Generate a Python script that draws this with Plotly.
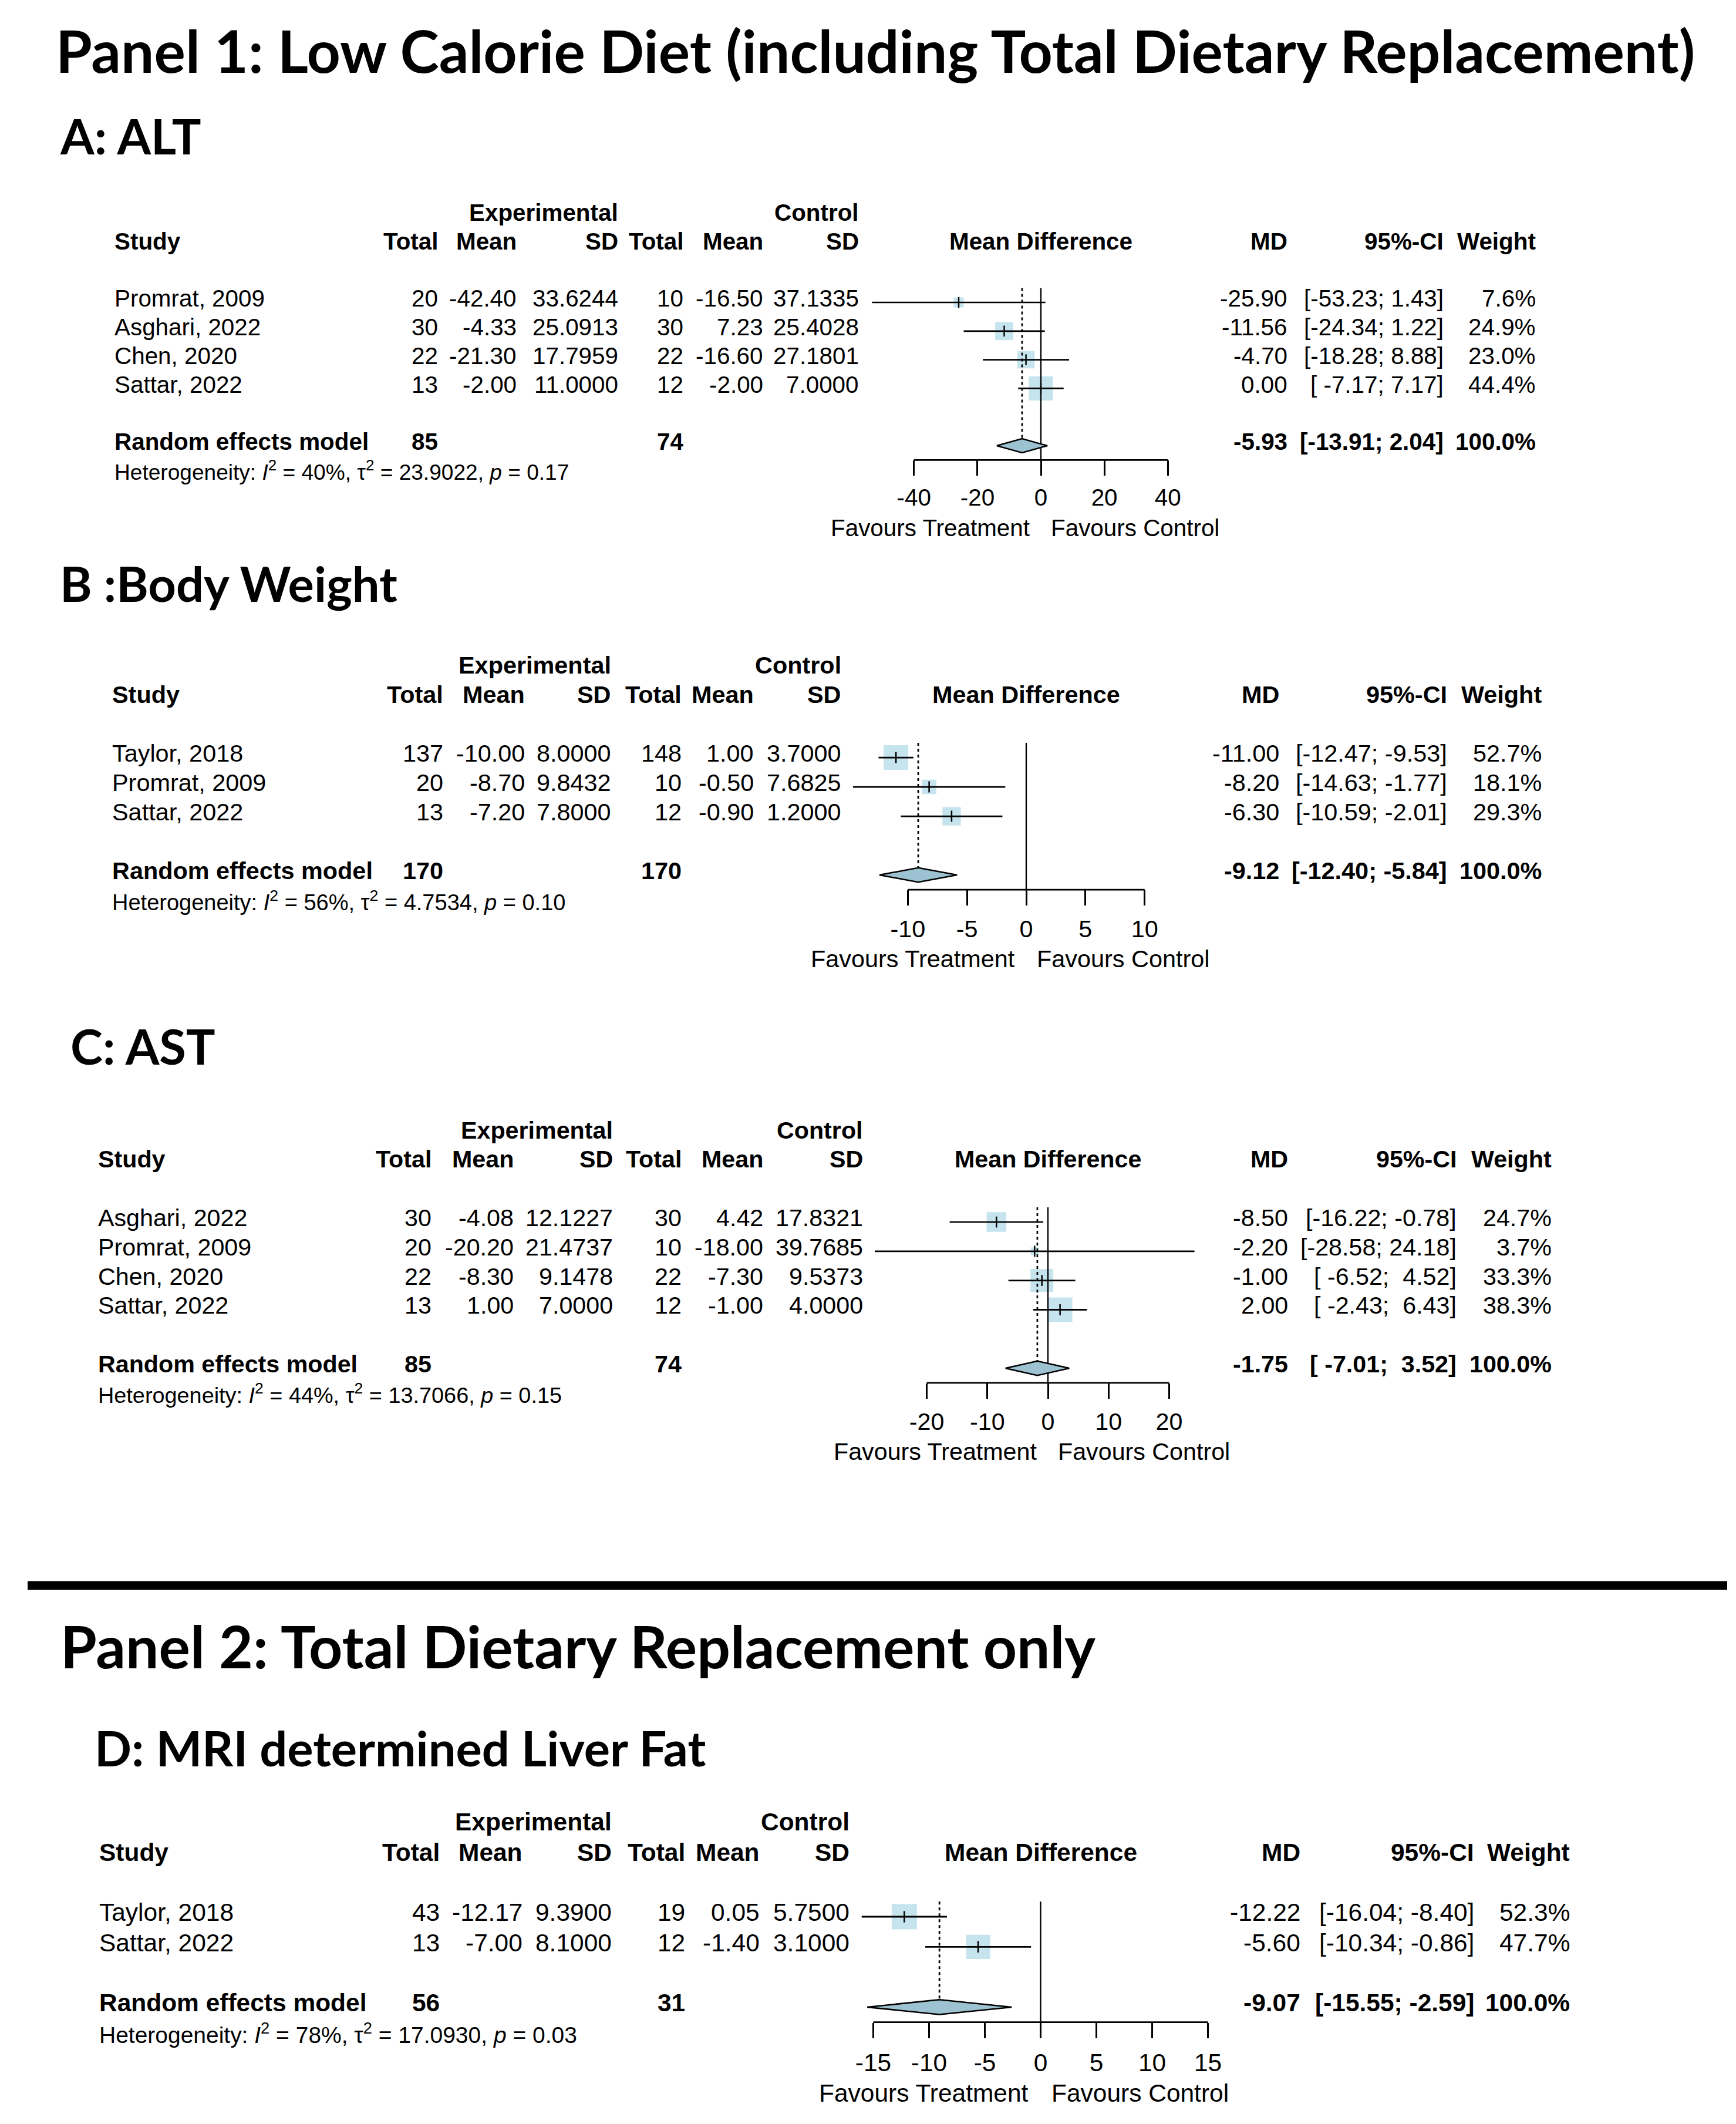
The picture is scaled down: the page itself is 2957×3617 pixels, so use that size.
import math
import plotly.graph_objects as go

W, H = 2957, 3617

# ---------------- DATA ----------------
MAIN_TITLES = ["Panel 1: Low Calorie Diet (including Total Dietary Replacement)",
               "Panel 2: Total Dietary Replacement only"]
PANEL_TITLES = ["A: ALT", "B :Body Weight", "C: AST", "D: MRI determined Liver Fat"]
HEADER_TOP = ["Experimental", "Control"]
HEADER = ["Study", "Total", "Mean", "SD", "Total", "Mean", "SD", "Mean Difference", "MD", "95%-CI", "Weight"]
POOLED_LABEL = "Random effects model"
FAVOURS = ["Favours Treatment", "Favours Control"]
REF_VALUE = 0

# Panel A: ALT
A_study = ["Promrat, 2009", "Asghari, 2022", "Chen, 2020", "Sattar, 2022"]
A_exp_total = [20, 30, 22, 13]
A_exp_mean = [-42.40, -4.33, -21.30, -2.00]
A_exp_sd = [33.6244, 25.0913, 17.7959, 11.0000]
A_ctl_total = [10, 30, 22, 12]
A_ctl_mean = [-16.50, 7.23, -16.60, -2.00]
A_ctl_sd = [37.1335, 25.4028, 27.1801, 7.0000]
A_md = [-25.90, -11.56, -4.70, 0.00]
A_lower = [-53.23, -24.34, -18.28, -7.17]
A_upper = [1.43, 1.22, 8.88, 7.17]
A_weight = [7.6, 24.9, 23.0, 44.4]
A_pooled_total = [85, 74]
A_pooled = [-5.93, -13.91, 2.04]
A_pooled_weight = 100.0
A_het = [40, 23.9022, 0.17]
A_ticks = [-40, -20, 0, 20, 40]

# Panel B: Body Weight
B_study = ["Taylor, 2018", "Promrat, 2009", "Sattar, 2022"]
B_exp_total = [137, 20, 13]
B_exp_mean = [-10.00, -8.70, -7.20]
B_exp_sd = [8.0000, 9.8432, 7.8000]
B_ctl_total = [148, 10, 12]
B_ctl_mean = [1.00, -0.50, -0.90]
B_ctl_sd = [3.7000, 7.6825, 1.2000]
B_md = [-11.00, -8.20, -6.30]
B_lower = [-12.47, -14.63, -10.59]
B_upper = [-9.53, -1.77, -2.01]
B_weight = [52.7, 18.1, 29.3]
B_pooled_total = [170, 170]
B_pooled = [-9.12, -12.40, -5.84]
B_pooled_weight = 100.0
B_het = [56, 4.7534, 0.10]
B_ticks = [-10, -5, 0, 5, 10]

# Panel C: AST
C_study = ["Asghari, 2022", "Promrat, 2009", "Chen, 2020", "Sattar, 2022"]
C_exp_total = [30, 20, 22, 13]
C_exp_mean = [-4.08, -20.20, -8.30, 1.00]
C_exp_sd = [12.1227, 21.4737, 9.1478, 7.0000]
C_ctl_total = [30, 10, 22, 12]
C_ctl_mean = [4.42, -18.00, -7.30, -1.00]
C_ctl_sd = [17.8321, 39.7685, 9.5373, 4.0000]
C_md = [-8.50, -2.20, -1.00, 2.00]
C_lower = [-16.22, -28.58, -6.52, -2.43]
C_upper = [-0.78, 24.18, 4.52, 6.43]
C_weight = [24.7, 3.7, 33.3, 38.3]
C_pooled_total = [85, 74]
C_pooled = [-1.75, -7.01, 3.52]
C_pooled_weight = 100.0
C_het = [44, 13.7066, 0.15]
C_ticks = [-20, -10, 0, 10, 20]

# Panel D: MRI determined liver fat
D_study = ["Taylor, 2018", "Sattar, 2022"]
D_exp_total = [43, 13]
D_exp_mean = [-12.17, -7.00]
D_exp_sd = [9.3900, 8.1000]
D_ctl_total = [19, 12]
D_ctl_mean = [0.05, -1.40]
D_ctl_sd = [5.7500, 3.1000]
D_md = [-12.22, -5.60]
D_lower = [-16.04, -10.34]
D_upper = [-8.40, -0.86]
D_weight = [52.3, 47.7]
D_pooled_total = [56, 31]
D_pooled = [-9.07, -15.55, -2.59]
D_pooled_weight = 100.0
D_het = [78, 17.0930, 0.03]
D_ticks = [-15, -10, -5, 0, 5, 10, 15]

# ---------------- LAYOUT (pixel geometry) ----------------
BODY = "Liberation Sans, Arial, sans-serif"
TITLE = "Lato, Calibri, sans-serif"
SQUARE_COL = "#ADD8E6"
DIAMOND_COL = "#9DC3D2"

PANELS = [
    dict(study=A_study, et=A_exp_total, em=A_exp_mean, es=A_exp_sd, ct=A_ctl_total, cm=A_ctl_mean,
         cs=A_ctl_sd, md=A_md, lo=A_lower, hi=A_upper, w=A_weight, pt=A_pooled_total, pool=A_pooled,
         pw=A_pooled_weight, het=A_het, ticks=A_ticks,
         title_xy=(104, 233), y1=507, h=48.8, zero=1765, ppu=5.405, xr=(-60, 50),
         cols=[189, 738, 872, 1045, 1156, 1292, 1455, 2185, 2451, 2608]),
    dict(study=B_study, et=B_exp_total, em=B_exp_mean, es=B_exp_sd, ct=B_ctl_total, cm=B_ctl_mean,
         cs=B_ctl_sd, md=B_md, lo=B_lower, hi=B_upper, w=B_weight, pt=B_pooled_total, pool=B_pooled,
         pw=B_pooled_weight, het=B_het, ticks=B_ticks,
         title_xy=(104, 995), y1=1282, h=50, zero=1740, ppu=20.17, xr=(-16, 12),
         cols=[185, 747, 886, 1033, 1153, 1276, 1425, 2171, 2457, 2618]),
    dict(study=C_study, et=C_exp_total, em=C_exp_mean, es=C_exp_sd, ct=C_ctl_total, cm=C_ctl_mean,
         cs=C_ctl_sd, md=C_md, lo=C_lower, hi=C_upper, w=C_weight, pt=C_pooled_total, pool=C_pooled,
         pw=C_pooled_weight, het=C_het, ticks=C_ticks,
         title_xy=(122, 1783), y1=2073, h=49.8, zero=1777, ppu=10.32, xr=(-32, 28),
         cols=[161, 727, 867, 1036, 1153, 1292, 1462, 2186, 2473, 2635]),
    dict(study=D_study, et=D_exp_total, em=D_exp_mean, es=D_exp_sd, ct=D_ctl_total, cm=D_ctl_mean,
         cs=D_ctl_sd, md=D_md, lo=D_lower, hi=D_upper, w=D_weight, pt=D_pooled_total, pool=D_pooled,
         pw=D_pooled_weight, het=D_het, ticks=D_ticks,
         title_xy=(163, 2978), y1=3256, h=51.3, zero=1764.5, ppu=19.0, xr=(-18, 18),
         cols=[163, 741, 882, 1034, 1159, 1286, 1439, 2207, 2503, 2666]),
]

MAIN_TITLE_XY = [(97, 89), (105, 2806)]
SEPARATOR_Y = 2692

NBSP = "\u00a0"


def pad(strings):
    wmax = max(len(s) for s in strings)
    return [NBSP * (wmax - len(s)) + s for s in strings]


fig = go.Figure()
annotations = []
shapes = []


def ann(text, x, y, xanchor="left", size=40, bold=False, xref="paper", family=BODY, xshift=0):
    if family == TITLE:
        ys = 0.12 * size
        xs = -12
    else:
        ys = 0.17 * size
        xs = {"left": -4, "right": 2, "center": 0}[xanchor]
    annotations.append(dict(
        text=text, x=(x / W if xref == "paper" else x), y=1 - y / H, xref=xref, yref="paper",
        xanchor=xanchor, yanchor="middle", showarrow=False, xshift=xshift + xs, yshift=ys,
        font=dict(family=family, size=size, color="black", weight=700 if bold else 400)))


for k, P in enumerate(PANELS, start=1):
    sfx = "" if k == 1 else str(k)
    xa, ya = "x" + sfx, "y" + sfx
    h, y1 = P["h"], P["y1"]
    n = len(P["study"])
    rows = list(range(1, n + 1))
    pool_row = n + 2
    axis_row = pool_row + 0.5
    top_row = -3
    fs = 0.828 * h
    lw = 0.055 * h

    def ypx(r, y1=y1, h=h):
        return y1 + (r - 1) * h

    x0_px = P["zero"] + P["xr"][0] * P["ppu"]
    x1_px = P["zero"] + P["xr"][1] * P["ppu"]
    ticks = P["ticks"]
    fig.update_layout(**{
        "xaxis" + sfx: dict(domain=[x0_px / W, x1_px / W], range=list(P["xr"]), anchor=ya,
                            tickvals=ticks, ticktext=[str(t) for t in ticks], ticks="outside",
                            ticklen=0.52 * h, tickwidth=lw, tickcolor="black", showgrid=False,
                            zeroline=False, showline=False, fixedrange=True,
                            tickfont=dict(family=BODY, size=fs, color="black"),
                            ticklabelstandoff=int(round(0.70 * h)) - 31),
        "yaxis" + sfx: dict(domain=[1 - ypx(axis_row) / H, 1 - ypx(top_row) / H],
                            range=[axis_row, top_row], visible=False, anchor=xa, fixedrange=True),
    })

    wmax = max(P["w"])
    sizes = [0.84 * h * math.sqrt(w / wmax) for w in P["w"]]
    # squares (area proportional to weight)
    fig.add_trace(go.Scatter(x=P["md"], y=rows, mode="markers", xaxis=xa, yaxis=ya,
                             marker=dict(symbol="square", size=sizes, color=SQUARE_COL, line=dict(width=0)),
                             hoverinfo="skip", showlegend=False))
    # CI lines
    cx, cy = [], []
    for lo, hi, r in zip(P["lo"], P["hi"], rows):
        cx += [lo, hi, None]
        cy += [r, r, None]
    fig.add_trace(go.Scatter(x=cx, y=cy, mode="lines", xaxis=xa, yaxis=ya,
                             line=dict(color="black", width=lw), hoverinfo="skip", showlegend=False))
    # point estimate tick
    fig.add_trace(go.Scatter(x=P["md"], y=rows, mode="markers", xaxis=xa, yaxis=ya,
                             marker=dict(symbol="line-ns-open", size=0.27 * h, color="black",
                                         line=dict(color="black", width=lw * 0.9)),
                             hoverinfo="skip", showlegend=False))
    # reference (no-effect) line
    fig.add_trace(go.Scatter(x=[REF_VALUE, REF_VALUE], y=[0.5, axis_row], mode="lines", xaxis=xa, yaxis=ya,
                             line=dict(color="black", width=lw * 0.85), hoverinfo="skip", showlegend=False))
    pmd, plo, phi = P["pool"]
    dh = 0.245
    # pooled dotted line
    fig.add_trace(go.Scatter(x=[pmd, pmd], y=[0.5, pool_row - dh], mode="lines", xaxis=xa, yaxis=ya,
                             line=dict(color="black", width=lw, dash="5px,5px"),
                             hoverinfo="skip", showlegend=False))
    # diamond
    fig.add_trace(go.Scatter(x=[plo, pmd, phi, pmd, plo],
                             y=[pool_row, pool_row - dh, pool_row, pool_row + dh, pool_row],
                             mode="lines", fill="toself", fillcolor=DIAMOND_COL, xaxis=xa, yaxis=ya,
                             line=dict(color="black", width=lw * 0.9), hoverinfo="skip", showlegend=False))
    # axis base line
    shapes.append(dict(type="line", xref=xa, yref=ya + " domain", x0=ticks[0], x1=ticks[-1], y0=0, y1=0,
                       line=dict(color="black", width=lw)))

    # ---- text table ----
    c = P["cols"]
    ann("<b>%s</b>" % HEADER_TOP[0], c[3], ypx(-2), "right", fs)
    ann("<b>%s</b>" % HEADER_TOP[1], c[6], ypx(-2), "right", fs)
    yh = ypx(-1)
    ann("<b>%s</b>" % HEADER[0], c[0], yh, "left", fs)
    for txt, cx_ in zip(HEADER[1:7], c[1:7]):
        ann("<b>%s</b>" % txt, cx_, yh, "right", fs)
    ann("<b>%s</b>" % HEADER[7], (ticks[0] + ticks[-1]) / 2, yh, "center", fs, xref=xa)
    for txt, cx_ in zip(HEADER[8:], c[7:]):
        ann("<b>%s</b>" % txt, cx_, yh, "right", fs)

    lo_s = pad(["%.2f" % v for v in P["lo"] + [plo]])
    hi_s = pad(["%.2f" % v for v in P["hi"] + [phi]])
    for i, r in enumerate(rows):
        y = ypx(r)
        ann(P["study"][i], c[0], y, "left", fs)
        vals = [str(P["et"][i]), "%.2f" % P["em"][i], "%.4f" % P["es"][i],
                str(P["ct"][i]), "%.2f" % P["cm"][i], "%.4f" % P["cs"][i],
                "%.2f" % P["md"][i], "[%s; %s]" % (lo_s[i], hi_s[i]), "%.1f%%" % P["w"][i]]
        for v, cx_ in zip(vals, c[1:]):
            ann(v, cx_, y, "right", fs)
    y = ypx(pool_row)
    ann("<b>%s</b>" % POOLED_LABEL, c[0], y, "left", fs)
    ann("<b>%d</b>" % P["pt"][0], c[1], y, "right", fs)
    ann("<b>%d</b>" % P["pt"][1], c[4], y, "right", fs)
    ann("<b>%.2f</b>" % pmd, c[7], y, "right", fs)
    ann("<b>[%s; %s]</b>" % (lo_s[-1], hi_s[-1]), c[8], y, "right", fs)
    ann("<b>%.1f%%</b>" % P["pw"], c[9], y, "right", fs)
    i2, tau2, pval = P["het"]
    ann("Heterogeneity: <i>I</i><sup>2</sup> = %d%%, \u03c4<sup>2</sup> = %.4f, <i>p</i> = %.2f" % (i2, tau2, pval),
        c[0], ypx(pool_row + 1), "left", 0.76 * h)
    ann(FAVOURS[0], REF_VALUE, ypx(pool_row + 3), "right", fs, xref=xa, xshift=-0.39 * h)
    ann(FAVOURS[1], REF_VALUE, ypx(pool_row + 3), "left", fs, xref=xa, xshift=0.39 * h)

    tx, ty = P["title_xy"]
    ann(PANEL_TITLES[k - 1], tx, ty, "left", 83, bold=True, family=TITLE)

for t, (tx, ty) in zip(MAIN_TITLES, MAIN_TITLE_XY):
    ann(t, tx, ty, "left", 100, bold=True, family=TITLE)

shapes.append(dict(type="line", xref="paper", yref="paper", x0=39 / W, x1=2934 / W,
                   y0=1 - SEPARATOR_Y / H, y1=1 - SEPARATOR_Y / H, line=dict(color="black", width=15)))

fig.update_layout(width=W, height=H, margin=dict(l=0, r=0, t=0, b=0),
                  paper_bgcolor="white", plot_bgcolor="rgba(0,0,0,0)",
                  showlegend=False, annotations=annotations, shapes=shapes)

fig.write_html("out.html")
